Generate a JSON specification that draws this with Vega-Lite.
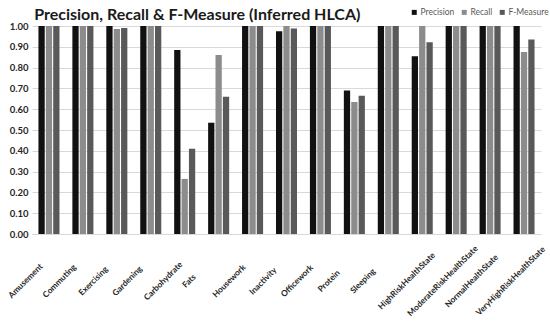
{
  "$schema": "https://vega.github.io/schema/vega-lite/v6.json",
  "width": 509,
  "height": 208,
  "autosize": {"type": "none"},
  "padding": {"left": 32, "top": 26, "right": 9, "bottom": 88},
  "background": "white",
  "title": {"text": "Precision, Recall & F-Measure (Inferred HLCA)", "anchor": "start", "font": "Lato", "fontSize": 16, "fontWeight": "bold", "color": "#1a1a1a", "offset": 0, "dy": 15, "dx": 28},
  "config": {"view": {"stroke": null}, "font": "Lato"},
  "data": {"values": [
    {"activity": "Amusement", "measure": "Precision", "value": 1.0},
    {"activity": "Amusement", "measure": "Recall", "value": 1.0},
    {"activity": "Amusement", "measure": "F-Measure", "value": 1.0},
    {"activity": "Commuting", "measure": "Precision", "value": 1.0},
    {"activity": "Commuting", "measure": "Recall", "value": 1.0},
    {"activity": "Commuting", "measure": "F-Measure", "value": 1.0},
    {"activity": "Exercising", "measure": "Precision", "value": 1.0},
    {"activity": "Exercising", "measure": "Recall", "value": 0.985},
    {"activity": "Exercising", "measure": "F-Measure", "value": 0.99},
    {"activity": "Gardening", "measure": "Precision", "value": 1.0},
    {"activity": "Gardening", "measure": "Recall", "value": 1.0},
    {"activity": "Gardening", "measure": "F-Measure", "value": 1.0},
    {"activity": "Carbohydrate", "measure": "Precision", "value": 0.885},
    {"activity": "Carbohydrate", "measure": "Recall", "value": 0.265},
    {"activity": "Carbohydrate", "measure": "F-Measure", "value": 0.41},
    {"activity": "Fats", "measure": "Precision", "value": 0.535},
    {"activity": "Fats", "measure": "Recall", "value": 0.86},
    {"activity": "Fats", "measure": "F-Measure", "value": 0.66},
    {"activity": "Housework", "measure": "Precision", "value": 1.0},
    {"activity": "Housework", "measure": "Recall", "value": 1.0},
    {"activity": "Housework", "measure": "F-Measure", "value": 1.0},
    {"activity": "Inactivity", "measure": "Precision", "value": 0.975},
    {"activity": "Inactivity", "measure": "Recall", "value": 1.0},
    {"activity": "Inactivity", "measure": "F-Measure", "value": 0.988},
    {"activity": "Officework", "measure": "Precision", "value": 1.0},
    {"activity": "Officework", "measure": "Recall", "value": 1.0},
    {"activity": "Officework", "measure": "F-Measure", "value": 1.0},
    {"activity": "Protein", "measure": "Precision", "value": 0.69},
    {"activity": "Protein", "measure": "Recall", "value": 0.635},
    {"activity": "Protein", "measure": "F-Measure", "value": 0.665},
    {"activity": "Sleeping", "measure": "Precision", "value": 1.0},
    {"activity": "Sleeping", "measure": "Recall", "value": 1.0},
    {"activity": "Sleeping", "measure": "F-Measure", "value": 1.0},
    {"activity": "HighRiskHealthState", "measure": "Precision", "value": 0.855},
    {"activity": "HighRiskHealthState", "measure": "Recall", "value": 1.0},
    {"activity": "HighRiskHealthState", "measure": "F-Measure", "value": 0.922},
    {"activity": "ModerateRiskHealthState", "measure": "Precision", "value": 1.0},
    {"activity": "ModerateRiskHealthState", "measure": "Recall", "value": 1.0},
    {"activity": "ModerateRiskHealthState", "measure": "F-Measure", "value": 1.0},
    {"activity": "NormalHealthState", "measure": "Precision", "value": 1.0},
    {"activity": "NormalHealthState", "measure": "Recall", "value": 1.0},
    {"activity": "NormalHealthState", "measure": "F-Measure", "value": 1.0},
    {"activity": "VeryHighRiskHealthState", "measure": "Precision", "value": 1.0},
    {"activity": "VeryHighRiskHealthState", "measure": "Recall", "value": 0.875},
    {"activity": "VeryHighRiskHealthState", "measure": "F-Measure", "value": 0.935}
  ]},
  "mark": {"type": "bar"},
  "encoding": {
    "x": {"field": "activity", "type": "nominal", "sort": null,
      "scale": {"paddingInner": 0.38, "paddingOuter": 0.19},
      "axis": {"title": null, "labelAngle": -45, "labelAlign": "center", "labelBaseline": "middle",
        "labelOffset": {"condition": [
          {"test": "datum.value === 'Fats'", "value": -29},
          {"test": "datum.value === 'Protein' || datum.value === 'Sleeping'", "value": -25},
          {"test": "datum.value === 'Carbohydrate'", "value": -21},
          {"test": "datum.value === 'NormalHealthState'", "value": -18},
          {"test": "datum.value === 'HighRiskHealthState'", "value": -15},
          {"test": "datum.value === 'ModerateRiskHealthState' || datum.value === 'VeryHighRiskHealthState'", "value": -13}
        ], "value": -23},
        "labelPadding": 47, "labelFontSize": 8.3, "labelFontWeight": "bold", "labelColor": "#262626", "ticks": false, "domainColor": "#d9d9d9", "labelFont": "Lato", "labelOverlap": false, "labelBound": false}},
    "xOffset": {"field": "measure", "type": "nominal", "sort": ["Precision", "Recall", "F-Measure"], "scale": {"paddingInner": 0.15}},
    "y": {"field": "value", "type": "quantitative",
      "scale": {"domain": [0, 1], "nice": false},
      "axis": {"title": null, "values": [0, 0.1, 0.2, 0.3, 0.4, 0.5, 0.6, 0.7, 0.8, 0.9, 1.0], "format": ".2f", "labelFontSize": 9.5, "labelFontWeight": "bold", "labelColor": "#262626", "domain": false, "ticks": false, "gridColor": "#d9d9d9", "labelPadding": 4}},
    "color": {"field": "measure", "type": "nominal", "sort": ["Precision", "Recall", "F-Measure"],
      "scale": {"domain": ["Precision", "Recall", "F-Measure"], "range": ["#111111", "#8c8c8c", "#595959"]},
      "legend": {"title": null, "orient": "none", "direction": "horizontal", "legendX": 378, "legendY": -18, "symbolType": "square", "symbolSize": 25, "labelFontSize": 8.5, "labelColor": "#595959", "columnPadding": 5, "symbolOffset": 0, "labelOffset": 2}}
  }
}
